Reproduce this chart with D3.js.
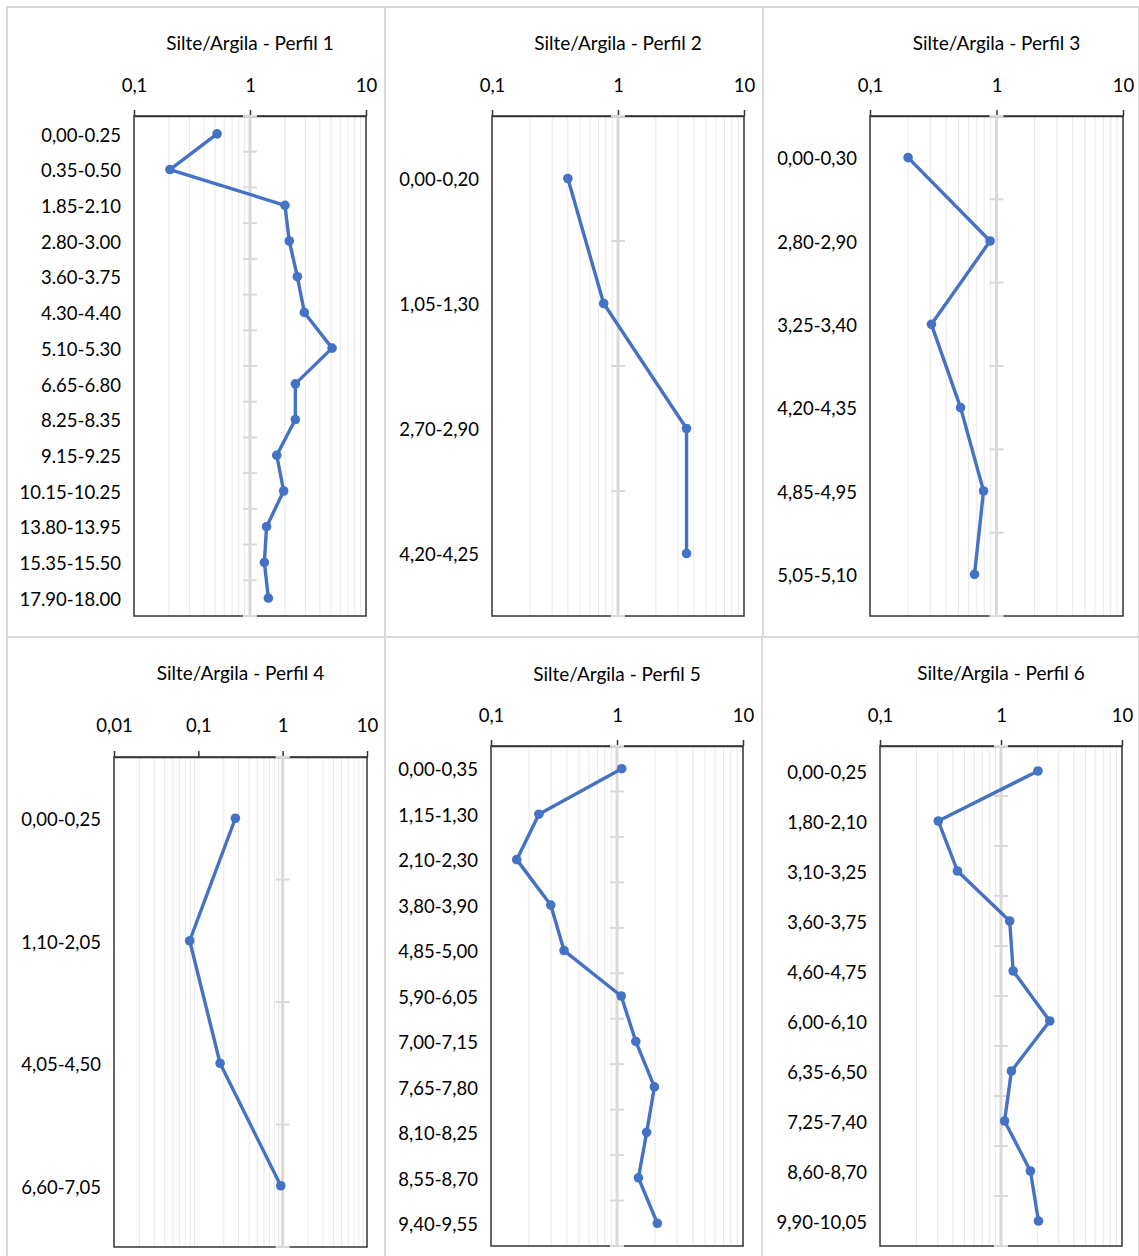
<!DOCTYPE html>
<html><head><meta charset="utf-8">
<script src="https://cdn.jsdelivr.net/npm/d3@7"></script>
<style>
body{margin:0;background:#fff}
svg{display:block}
</style>
</head><body>
<svg id="c" width="1139" height="1256"></svg>
<script>
// ---------- DATA ----------
const titles = ["Silte/Argila - Perfil 1","Silte/Argila - Perfil 2","Silte/Argila - Perfil 3",
                "Silte/Argila - Perfil 4","Silte/Argila - Perfil 5","Silte/Argila - Perfil 6"];

const p1Depths = ["0,00-0.25","0.35-0.50","1.85-2.10","2.80-3.00","3.60-3.75","4.30-4.40","5.10-5.30",
                  "6.65-6.80","8.25-8.35","9.15-9.25","10.15-10.25","13.80-13.95","15.35-15.50","17.90-18.00"];
const p1Values = [0.52,0.204,2.0,2.18,2.56,2.94,5.1,2.46,2.46,1.70,1.95,1.39,1.33,1.44];

const p2Depths = ["0,00-0,20","1,05-1,30","2,70-2,90","4,20-4,25"];
const p2Values = [0.40,0.77,3.5,3.5];

const p3Depths = ["0,00-0,30","2,80-2,90","3,25-3,40","4,20-4,35","4,85-4,95","5,05-5,10"];
const p3Values = [0.20,0.89,0.306,0.52,0.79,0.67];

const p4Depths = ["0,00-0,25","1,10-2,05","4,05-4,50","6,60-7,05"];
const p4Values = [0.275,0.079,0.181,0.95];

const p5Depths = ["0,00-0,35","1,15-1,30","2,10-2,30","3,80-3,90","4,85-5,00","5,90-6,05",
                  "7,00-7,15","7,65-7,80","8,10-8,25","8,55-8,70","9,40-9,55"];
const p5Values = [1.09,0.24,0.16,0.298,0.38,1.08,1.41,1.98,1.72,1.48,2.09];

const p6Depths = ["0,00-0,25","1,80-2,10","3,10-3,25","3,60-3,75","4,60-4,75","6,00-6,10",
                  "6,35-6,50","7,25-7,40","8,60-8,70","9,90-10,05"];
const p6Values = [2.02,0.303,0.437,1.18,1.26,2.53,1.22,1.07,1.75,2.04];

const tickValuesA = [0.1,1,10];
const tickValuesB = [0.01,0.1,1,10];

// ---------- LAYOUT ----------
const layout = [
  {box:[7,7,385,637],    plot:[134,116,366,616],  domain:[0.1,10],  titleY:42,  tickY:85,  ticks:tickValuesA, depths:p1Depths, values:p1Values},
  {box:[385,7,763,637],  plot:[492,116,744,616],  domain:[0.1,10],  titleY:42,  tickY:85,  ticks:tickValuesA, depths:p2Depths, values:p2Values},
  {box:[763,7,1139,637], plot:[870,116,1123,616], domain:[0.1,10],  titleY:42,  tickY:85,  ticks:tickValuesA, depths:p3Depths, values:p3Values},
  {box:[7,637,385,1262], plot:[114,757,367,1247], domain:[0.01,10], titleY:672, tickY:725, ticks:tickValuesB, depths:p4Depths, values:p4Values},
  {box:[385,637,762,1262],plot:[491,746,743,1246],domain:[0.1,10],  titleY:673, tickY:715, ticks:tickValuesA, depths:p5Depths, values:p5Values},
  {box:[762,637,1139,1262],plot:[880,746,1122,1246],domain:[0.1,10],titleY:672, tickY:715, ticks:tickValuesA, depths:p6Depths, values:p6Values}
];

const FONT = "Lato, 'Open Sans', sans-serif";
const BLUE = "#4472C4";
const svg = d3.select("#c");
const fmt = d => String(d).replace(".", ",");

layout.forEach((L, i) => {
  const [bx0,by0,bx1,by1] = L.box;
  const [px0,py0,px1,py1] = L.plot;
  const g = svg.append("g");

  // panel border
  g.append("rect").attr("x",bx0).attr("y",by0).attr("width",bx1-bx0).attr("height",by1-by0)
    .attr("fill","#fff").attr("stroke","#d9d9d9").attr("stroke-width",2);

  const x = d3.scaleLog().domain(L.domain).range([px0,px1]);
  const y = d3.scaleBand().domain(L.depths).range([py0,py1]).paddingInner(0).paddingOuter(0);

  // minor gridlines
  const minors = [];
  for (let dec = L.domain[0]; dec < L.domain[1]*0.999; dec *= 10) {
    for (let k = 2; k <= 9; k++) minors.push(+(k*dec).toPrecision(6));
  }
  g.append("g").selectAll("line").data(minors).join("line")
    .attr("x1", d=>x(d)).attr("x2", d=>x(d)).attr("y1", py0).attr("y2", py1)
    .attr("stroke","#e8e8e8").attr("stroke-width",1);

  // plot frame
  g.append("rect").attr("x",px0).attr("y",py0).attr("width",px1-px0).attr("height",py1-py0)
    .attr("fill","none").attr("stroke","#333").attr("stroke-width",1.5);

  // top value axis
  const ax = g.append("g").attr("transform",`translate(0,${py0})`)
    .call(d3.axisTop(x).tickValues(L.ticks).tickFormat(fmt).tickSize(6).tickSizeOuter(0).tickPadding(18));
  ax.select(".domain").attr("stroke","#333").attr("stroke-width",1.5);
  ax.selectAll(".tick line").attr("stroke","#333").attr("stroke-width",1.5);
  ax.selectAll(".tick text").attr("y", L.tickY - py0).attr("dy","0.4em")
    .attr("font-family",FONT).attr("font-size",18.5).attr("fill","#000");

  // category axis at x = 1
  const cx = x(1);
  g.append("line").attr("x1",cx).attr("x2",cx).attr("y1",py0).attr("y2",py1)
    .attr("stroke","#d9d9d9").attr("stroke-width",3);
  const bounds = d3.range(L.depths.length+1).map(k => py0 + k*y.bandwidth());
  g.append("g").selectAll("line").data(bounds).join("line")
    .attr("x1",cx-7).attr("x2",cx+7).attr("y1",d=>d).attr("y2",d=>d)
    .attr("stroke","#d9d9d9").attr("stroke-width",2);

  // category labels
  g.append("g").selectAll("text").data(L.depths).join("text")
    .attr("x", px0-13).attr("y", d=>y(d)+y.bandwidth()/2).attr("dy","0.42em")
    .attr("text-anchor","end").attr("font-family",FONT).attr("font-size",18.5).attr("fill","#000")
    .text(d=>d);

  // title
  g.append("text").attr("x",(px0+px1)/2).attr("y",L.titleY).attr("dy","0.4em")
    .attr("text-anchor","middle").attr("font-family",FONT).attr("font-size",19).attr("fill","#000")
    .text(titles[i]);

  // series
  const pts = L.depths.map((d,k)=>({d, v:L.values[k]}));
  const line = d3.line().x(p=>x(p.v)).y(p=>y(p.d)+y.bandwidth()/2);
  g.append("path").datum(pts).attr("d",line).attr("fill","none")
    .attr("stroke",BLUE).attr("stroke-width",3.4).attr("stroke-linejoin","round");
  g.append("g").selectAll("circle").data(pts).join("circle")
    .attr("cx",p=>x(p.v)).attr("cy",p=>y(p.d)+y.bandwidth()/2).attr("r",4.8).attr("fill",BLUE);
});
</script>
</body></html>
